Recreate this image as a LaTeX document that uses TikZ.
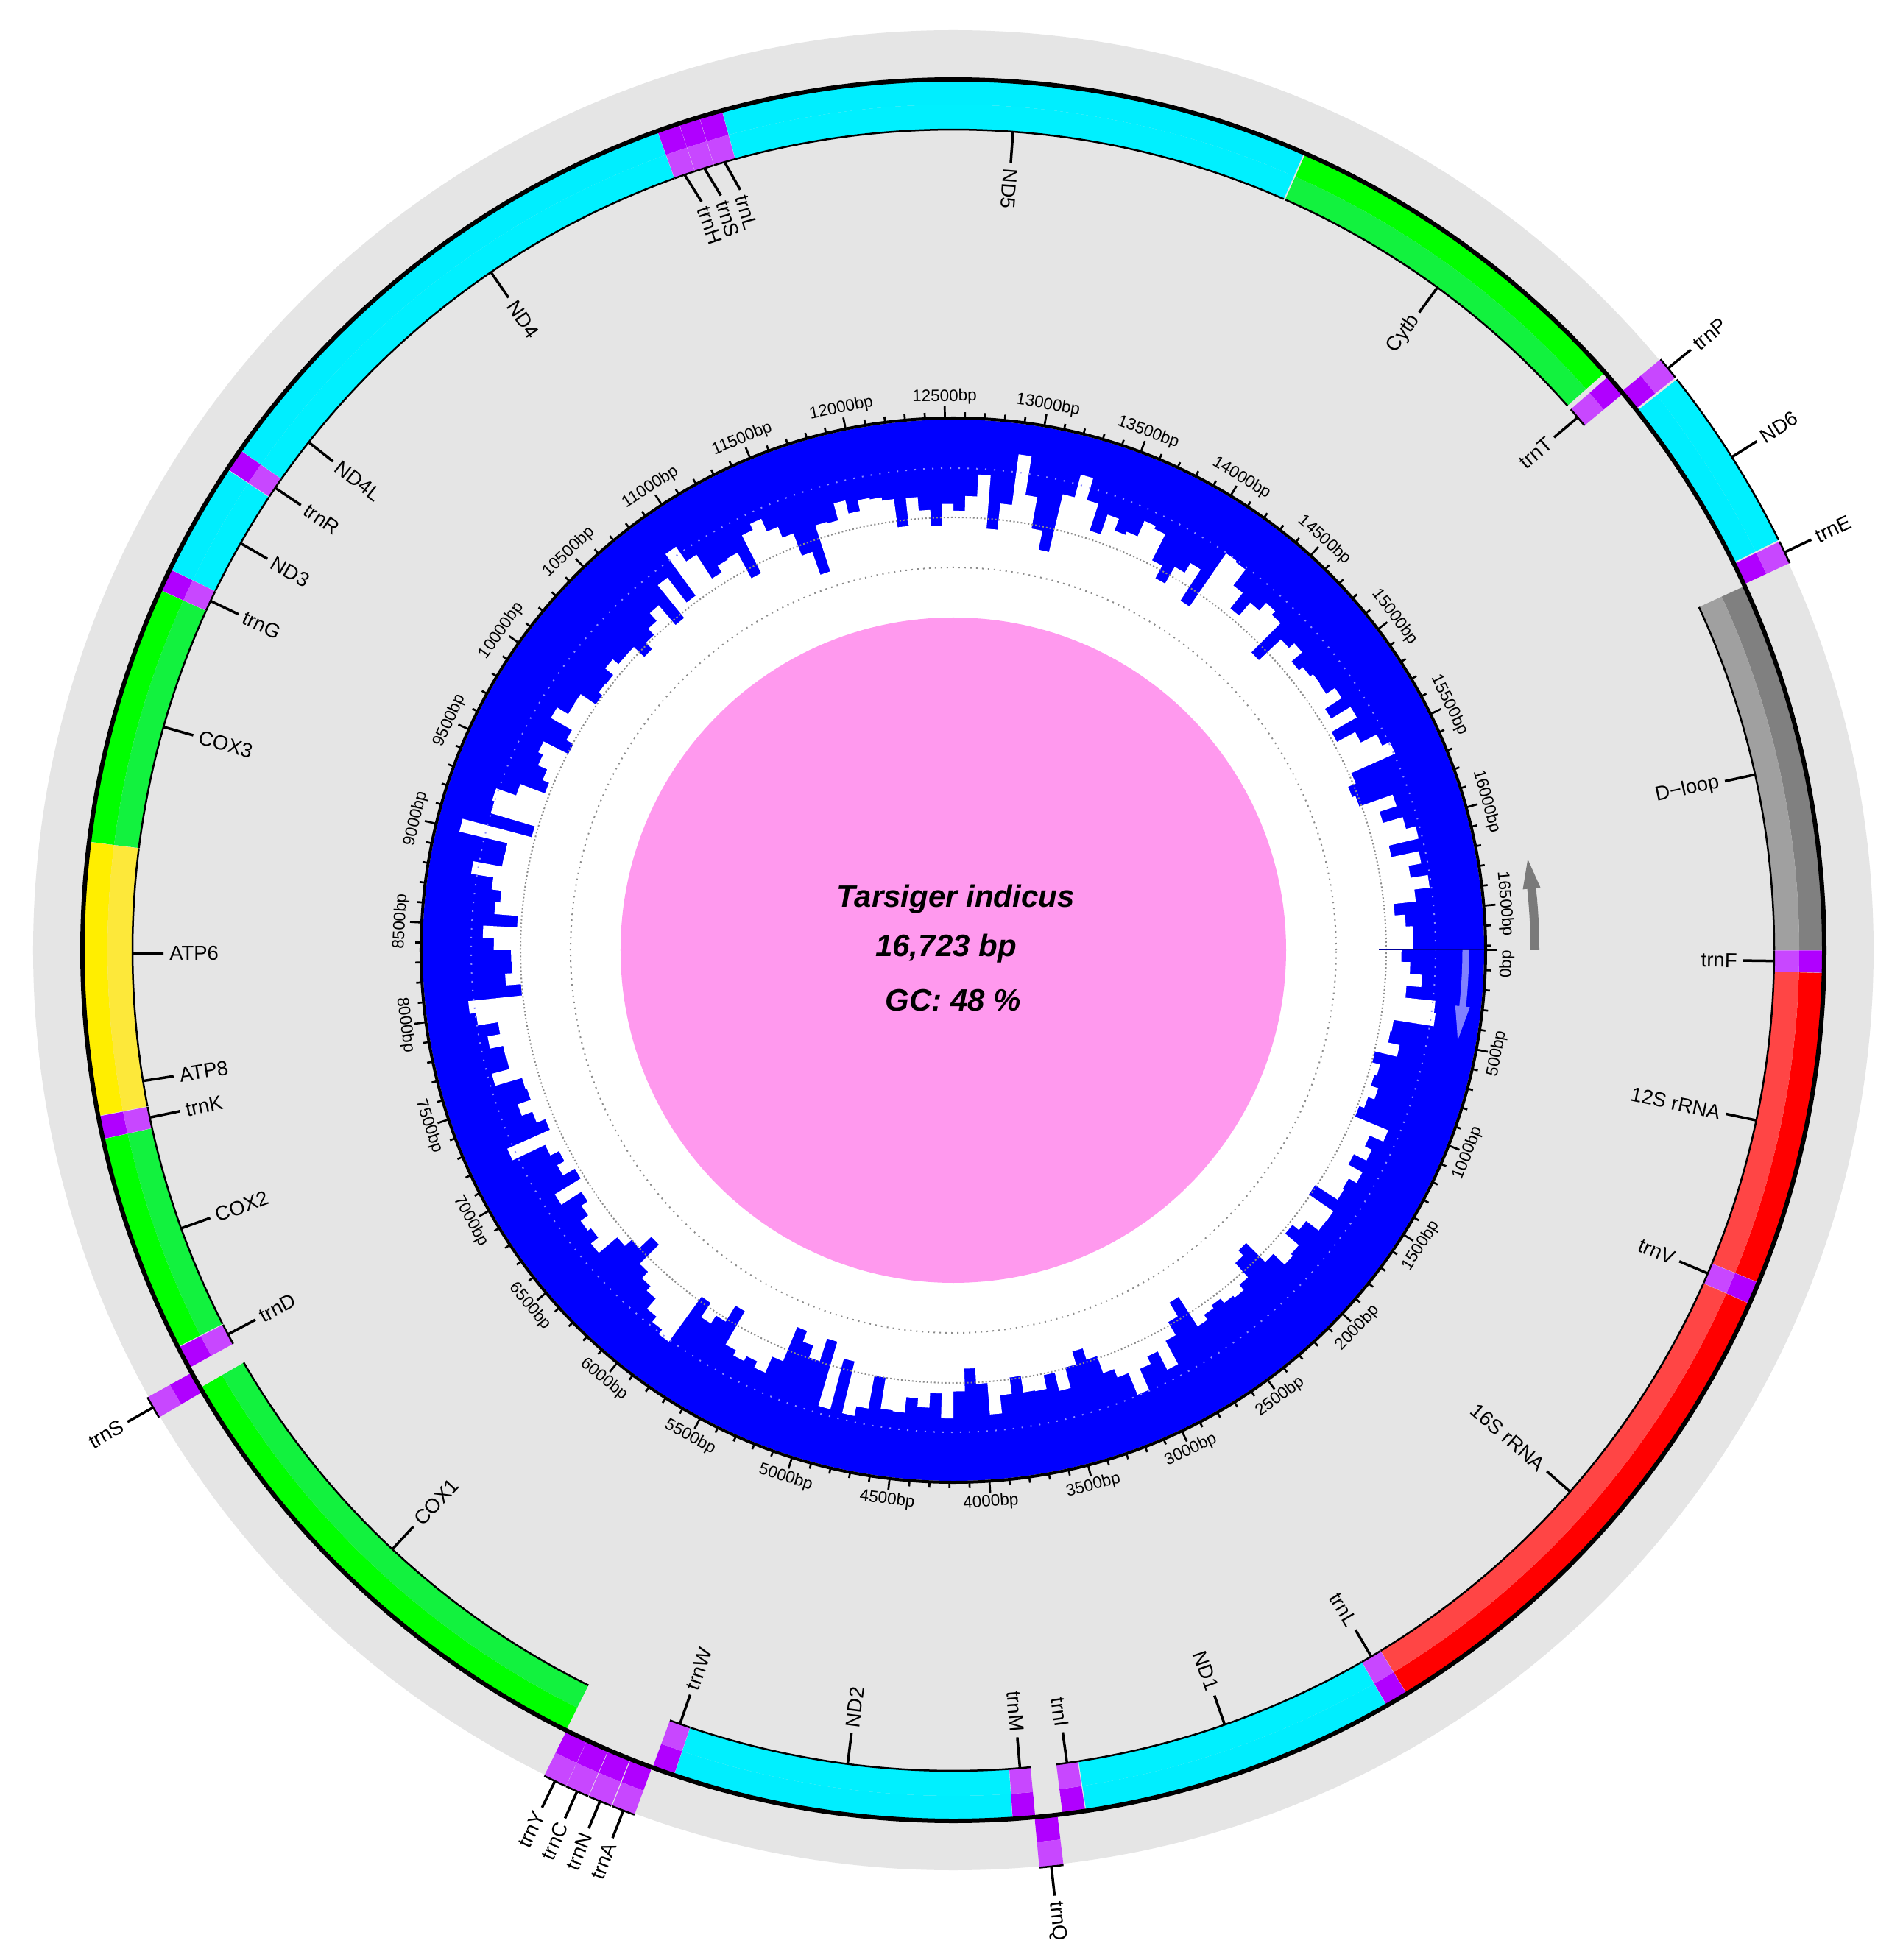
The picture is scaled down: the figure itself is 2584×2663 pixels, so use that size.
\documentclass[tikz,border=0pt]{standalone}
\usepackage{fontspec}
\setmainfont{Liberation Sans}
\definecolor{tA}{HTML}{B000FF}\definecolor{tB}{HTML}{C847FF}
\definecolor{nA}{HTML}{00EEFF}\definecolor{nB}{HTML}{00F0FF}
\definecolor{cA}{HTML}{00FF00}\definecolor{cB}{HTML}{12F23E}
\definecolor{aA}{HTML}{FFEE00}\definecolor{aB}{HTML}{FDE83A}
\definecolor{rA}{HTML}{FF0000}\definecolor{rB}{HTML}{FF4545}
\definecolor{dA}{HTML}{808080}\definecolor{dB}{HTML}{A0A0A0}
\definecolor{bgray}{HTML}{E5E5E5}
\definecolor{gcblue}{HTML}{0000FF}
\definecolor{pinkc}{HTML}{FF99EE}
\definecolor{arrgray}{HTML}{7A7A7A}
\definecolor{arrblue}{HTML}{8080FF}
\definecolor{dotblue}{HTML}{8A8AFF}
\definecolor{dotgray}{HTML}{8C8C8C}
\tikzset{
  glabel/.style={font=\fontsize{27.5}{33}\selectfont, inner sep=3pt},
  glline/.style={line width=3.5pt},
  edgeline/.style={line width=2.5pt},
  ticklbl/.style={font=\fontsize{22.5}{27}\selectfont, inner sep=0pt},
  tickmark/.style={line width=2.7pt},
  centertext/.style={font=\fontsize{42}{50}\selectfont\bfseries\itshape, inner sep=0pt, anchor=base}
}
\begin{document}
\begin{tikzpicture}[x=1pt,y=1pt]
\useasboundingbox (-1295,-1372) rectangle (1289,1291);
\fill[white] (-1295,-1372) rectangle (1289,1291);
\fill[bgray] (0,0) circle[radius=1250pt];
% genes
\foreach \s/\e/\st/\T/\nm/\lb [count=\ci] in {
1/69/1/t/trnF/35,
70/1042/1/r/12S rRNA/556,
1043/1112/1/t/trnV/1078,
1113/2723/1/r/16S rRNA/1918,
2724/2794/1/t/trnL/2759,
2795/3773/1/n/ND1/3284,
3776/3846/1/t/trnI/3811,
3862/3932/0/t/trnQ/3897,
3930/3999/1/t/trnM/3965,
4000/5049/1/n/ND2/4525,
5050/5119/1/t/trnW/5085,
5121/5190/0/t/trnA/5156,
5193/5263/0/t/trnN/5228,
5265/5335/0/t/trnC/5300,
5336/5405/0/t/trnY/5371,
5407/6960/1/c/COX1/6184,
6946/7013/0/t/trnS/6980,
7030/7100/1/t/trnD/7065,
7103/7779/1/c/COX2/7441,
7780/7850/1/t/trnK/7815,
7852/8019/1/a/ATP8/7935,
8010/8693/1/a/ATP6/8351,
8694/9496/1/c/COX3/9095,
9497/9566/1/t/trnG/9531,
9567/9918/1/n/ND3/9742,
9920/9989/1/t/trnR/9955,
9990/10286/1/n/ND4L/10138,
10280/11619/1/n/ND4/10950,
11620/11689/1/t/trnH/11679,
11690/11754/1/t/trnS/11747,
11755/11826/1/t/trnL/11815,
11827/13645/1/n/ND5/12736,
13650/14792/1/c/Cytb/14221,
14808/14877/1/t/trnT/14842,
14870/14938/0/t/trnP/14904,
14945/15495/0/n/ND6/15220,
15500/15569/0/t/trnE/15535,
15575/16723/1/d/D−loop/16149}{
  \edef\gA{\fpeval{round(-\s/16723*360,5)}}
  \edef\gB{\fpeval{round(-\e/16723*360,5)}}
  \edef\gC{\fpeval{round((\gA+\gB)/2,5)}}
  \edef\lA{\fpeval{round(-\lb/16723*360,5)}}
  \edef\lN{\fpeval{\lA<-180 ? \lA+360 : \lA}}
  \edef\lR{\fpeval{\lN+180}}
  \colorlet{gcolA}{\T A}\colorlet{gcolB}{\T B}
  \ifnum\st=1
    \def\rA{1183}\def\rM{1149}\def\rB{1115}\def\rL{1073}\def\rT{1068}
    \edef\rs{\fpeval{(\lN>-90 && \lN<84) ? 1 : 0}}
  \else
    \def\rA{1183}\def\rM{1217}\def\rB{1252}\def\rL{1292}\def\rT{1297}
    \edef\rs{\fpeval{(\lN>-90 && \lN<90) ? 1 : 0}}
  \fi
  \fill[gcolA] (\gA:\rA pt) arc[start angle=\gA, end angle=\gB, radius=\rA pt] -- (\gB:\rM pt) arc[start angle=\gB, end angle=\gA, radius=\rM pt] -- cycle;
  \fill[gcolB] (\gA:\rM pt) arc[start angle=\gA, end angle=\gB, radius=\rM pt] -- (\gB:\rB pt) arc[start angle=\gB, end angle=\gA, radius=\rB pt] -- cycle;
  \draw[edgeline] (\gA:\rB pt) arc[start angle=\gA, end angle=\gB, radius=\rB pt];
  \coordinate (ge\ci) at (\gC:\rB pt);
  \coordinate (gt\ci) at (\lA:\rL pt);
  \draw[glline] (ge\ci) -- (gt\ci);
  \ifnum\st=1
    \ifnum\rs=1
      \node[glabel, anchor=east, rotate=\lN] (gl\ci) at (\lA:\rT pt) {\nm};
    \else
      \node[glabel, anchor=west, rotate=\lR] (gl\ci) at (\lA:\rT pt) {\nm};
    \fi
  \else
    \ifnum\rs=1
      \node[glabel, anchor=west, rotate=\lN] (gl\ci) at (\lA:\rT pt) {\nm};
    \else
      \node[glabel, anchor=east, rotate=\lR] (gl\ci) at (\lA:\rT pt) {\nm};
    \fi
  \fi
}
\draw[line width=6pt] (0,0) circle[radius=1183pt];
% GC content ring
\fill[gcblue] (0,0) circle[radius=721pt];
\pgfmathsetseed{23}
\gdef\gcpath{}
\gdef\prevv{0}
\foreach \i in {0,...,239}{
  \pgfmathsetmacro\nv{0.3*\prevv+(rnd+rnd+rnd+rnd-2)*46}
  \xdef\prevv{\nv}
  \pgfmathsetmacro\rr{max(505,min(690,612+\nv))}
  \pgfmathsetmacro\ang{-\i*1.5}
  \xdef\gcpath{\gcpath -- (\ang:\rr pt) arc[start angle=\ang, delta angle=-1.5, radius=\rr pt]}
}
\fill[white] (0,0) \gcpath -- cycle;
\fill[pinkc] (0,0) circle[radius=452pt];
\draw[dotblue, line width=2pt, dash pattern=on 2pt off 10pt] (0,0) circle[radius=655pt];
\draw[dotgray, line width=2pt, dash pattern=on 2pt off 3pt] (0,0) circle[radius=588pt];
\draw[dotgray, line width=2pt, dash pattern=on 2pt off 6pt] (0,0) circle[radius=520pt];
\draw[line width=1pt, color=gcblue!60!black] (0:578pt) -- (0:721pt);
% ticks
\draw[line width=4pt] (0,0) circle[radius=723pt];
\foreach \i in {0,...,167}{
  \edef\ta{\fpeval{round(-\i*100/16723*360,5)}}
  \edef\mj{\fpeval{\i-5*trunc(\i/5)}}
  \ifnum\mj=0
    \draw[tickmark] (\ta:723pt) -- (\ta:739pt);
  \else
    \draw[tickmark] (\ta:723pt) -- (\ta:731pt);
  \fi
}
\node[ticklbl, anchor=north east, rotate=90] (tl0) at (0:741pt) {0bp};
\foreach \k in {1,...,33}{
  \edef\bp{\the\numexpr\k*500\relax}
  \edef\ta{\fpeval{round(-\bp/16723*360,5)}}
  \ifnum\bp>8361
    \edef\tr{\fpeval{\ta-90}}
    \node[ticklbl, anchor=south, rotate=\tr] (tl\k) at (\ta:741pt) {\bp bp};
  \else
    \edef\tr{\fpeval{\ta+90}}
    \node[ticklbl, anchor=north, rotate=\tr] (tl\k) at (\ta:741pt) {\bp bp};
  \fi
}
% direction arrows
\fill[arrgray] (0:784pt) arc[start angle=0, end angle=6.1, radius=784pt] -- (6.1:778pt) -- (9.0:790pt) -- (6.1:802pt) -- (6.1:796pt) arc[start angle=6.1, end angle=0, radius=796pt] -- cycle;
\fill[arrblue] (0:691.5pt) arc[start angle=0, end angle=-6.3, radius=691.5pt] -- (-6.3:686pt) -- (-10.1:696pt) -- (-6.3:706pt) -- (-6.3:700.5pt) arc[start angle=-6.3, end angle=0, radius=700.5pt] -- cycle;
% centre text
\node[centertext] (title) at (3,58) {Tarsiger indicus};
\node[centertext] (size) at (-10,-9) {16,723 bp};
\node[centertext] (gc) at (0,-82) {GC: 48 \%};
\end{tikzpicture}
\end{document}
